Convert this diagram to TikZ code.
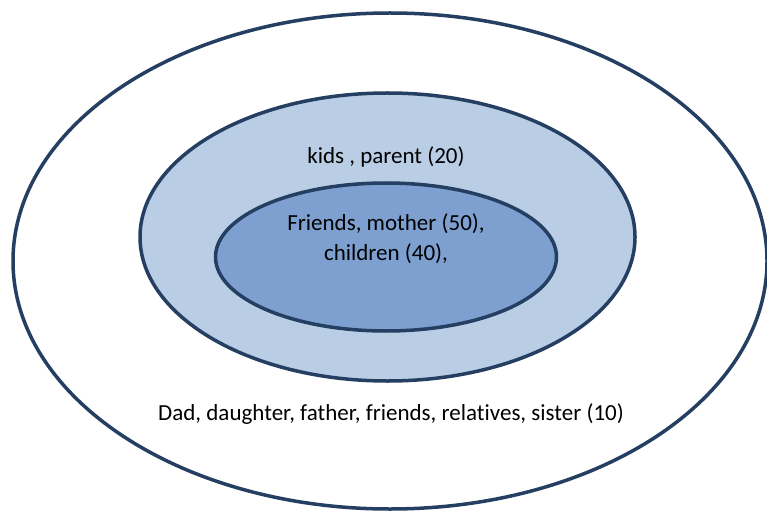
\documentclass[tikz,border=0pt]{standalone}
\usepackage{fontspec}
\setmainfont{Carlito}[Ligatures=NoCommon]
\usetikzlibrary{shapes.geometric}
\definecolor{edge}{HTML}{243F62}
\definecolor{midfill}{HTML}{B9CDE5}
\definecolor{innerfill}{HTML}{7DA0D0}
\tikzset{
  ring/.style={ellipse, draw=edge, line width=3.5pt, inner sep=0pt},
  lbl/.style={font=\fontsize{23}{28}\selectfont, text=black, inner sep=0pt, align=center}
}
\begin{document}
\begin{tikzpicture}[x=1pt,y=1pt]
\useasboundingbox (0,0) rectangle (767,512);
\fill[white] (0,0) rectangle (767,512);
\node[ring, fill=white, minimum width=754pt, minimum height=496pt] (outer) at (390,251) {};
\node[ring, fill=midfill, minimum width=495pt, minimum height=288pt] (middle) at (387.5,275) {};
\node[ring, fill=innerfill, minimum width=341pt, minimum height=148pt] (inner) at (386,255) {};
\node[lbl] (t20) at (386,355) {kids , parent (20)};
\node[lbl] (t50) at (386,288) {Friends, mother (50),};
\node[lbl] (t40) at (386,258) {children (40),};
\node[lbl] (t10) at (391,98) {Dad, daughter, father, friends, relatives, sister (10)};
\end{tikzpicture}
\end{document}
